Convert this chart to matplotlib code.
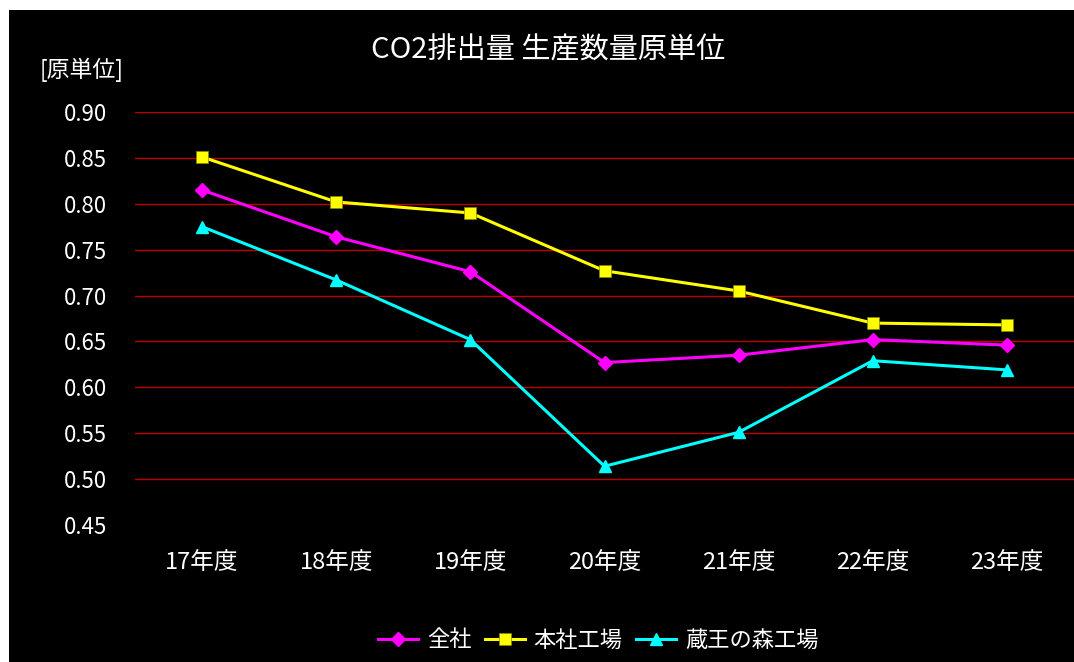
import matplotlib
matplotlib.use("Agg")
import matplotlib.pyplot as plt
from matplotlib.patches import Rectangle

plt.rcParams['font.family'] = ['Noto Sans CJK JP', 'DejaVu Sans']

# data
years = ["17年度", "18年度", "19年度", "20年度", "21年度", "22年度", "23年度"]
zensha = [0.815, 0.764, 0.726, 0.627, 0.635, 0.652, 0.646]
honsha = [0.851, 0.802, 0.790, 0.727, 0.705, 0.670, 0.668]
zao = [0.775, 0.717, 0.652, 0.514, 0.551, 0.629, 0.619]
yticks = [0.45, 0.50, 0.55, 0.60, 0.65, 0.70, 0.75, 0.80, 0.85, 0.90]

fig = plt.figure(figsize=(10.74, 6.62), dpi=100, facecolor="white")
# black chart area with a thin white margin at left and top
fig.patches.append(Rectangle((9 / 1074, 0), 1 - 9 / 1074, 1 - 10 / 662,
                             transform=fig.transFigure, facecolor="black",
                             edgecolor="none", zorder=-10))

ax = fig.add_axes([135 / 1074, 137 / 662, 939 / 1074, 413 / 662])
ax.set_facecolor("black")

x = range(len(years))
for yv in yticks[1:]:
    ax.axhline(yv, color="#c00000", lw=1.0, zorder=1)

ax.plot(x, zensha, color="#ff00ff", lw=2.2, marker="D", markersize=7, label="全社", zorder=3)
ax.plot(x, honsha, color="#ffff00", lw=2.2, marker="s", markersize=9,
        markeredgecolor="#888800", markeredgewidth=0.5, label="本社工場", zorder=3)
ax.plot(x, zao, color="#00ffff", lw=2.2, marker="^", markersize=9, label="蔵王の森工場", zorder=3)

ax.set_xlim(-0.5, len(years) - 0.5)
ax.set_ylim(0.45, 0.90)
ax.set_yticks(yticks)
ax.set_yticklabels([f"{v:.2f}" for v in yticks])
ax.set_xticks(list(x))
ax.set_xticklabels(years)
ax.tick_params(axis="y", colors="white", labelsize=16, length=0, pad=20)
ax.tick_params(axis="x", colors="white", labelsize=17, length=0, pad=19)
for s in ax.spines.values():
    s.set_visible(False)

fig.text(0.51, 1 - 50 / 662, "CO2排出量 生産数量原単位", color="white",
         fontsize=21, ha="center", va="center")
fig.text(40 / 1074, 1 - 70 / 662, "[原単位]", color="white",
         fontsize=16.5, ha="left", va="center")

leg = fig.legend(loc="center", bbox_to_anchor=(0.557, 1 - 640 / 662), ncol=3,
                 frameon=False, fontsize=16, handlelength=1.8,
                 handletextpad=0.4, columnspacing=0.6)
for t in leg.get_texts():
    t.set_color("white")

fig.savefig("out.png", dpi=100, facecolor=fig.get_facecolor())
